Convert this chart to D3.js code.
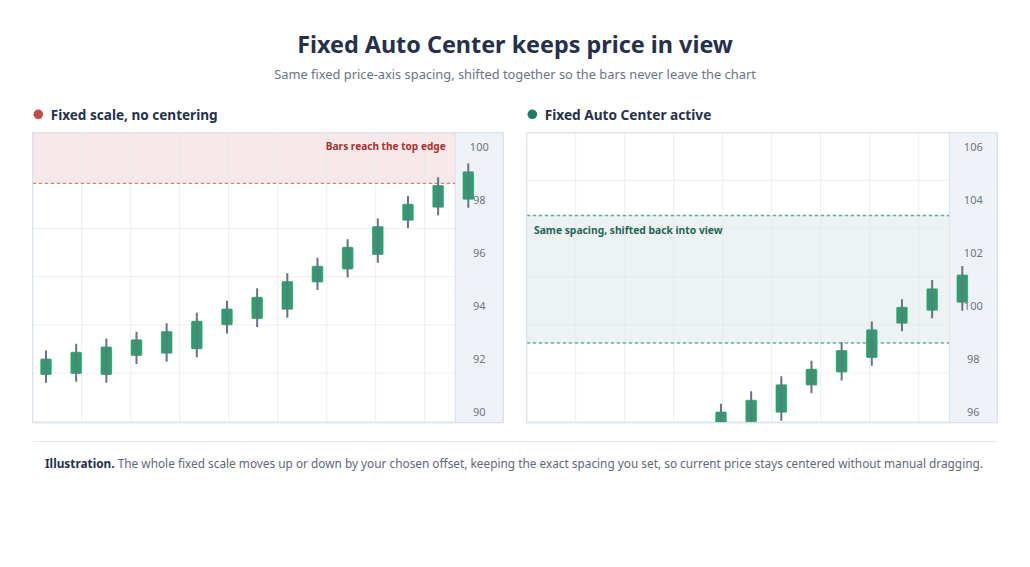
<!DOCTYPE html>
<html>
<head>
<meta charset="utf-8">
<script src="https://cdn.jsdelivr.net/npm/d3@7/dist/d3.min.js"></script>
<style>
  html, body { margin: 0; padding: 0; background: #ffffff; }
  svg { display: block; font-family: "Noto Sans", "Open Sans", sans-serif; }
</style>
</head>
<body>
<svg id="chart" width="1030" height="567"></svg>
<script>
// ---------- DATA ----------
const titleText = "Fixed Auto Center keeps price in view";
const subtitleText = "Same fixed price-axis spacing, shifted together so the bars never leave the chart";
const panelTitles = ["Fixed scale, no centering", "Fixed Auto Center active"];
const bandLabels = ["Bars reach the top edge", "Same spacing, shifted back into view"];
const footerBold = "Illustration.";
const footerText = " The whole fixed scale moves up or down by your chosen offset, keeping the exact spacing you set, so current price stays centered without manual dragging.";

const barIndex = [0, 1, 2, 3, 4, 5, 6, 7, 8, 9, 10, 11, 12, 13, 14];

// Left panel (fixed scale, no centering)
const leftOpen  = [91.40, 91.44, 91.40, 92.12, 92.20, 92.37, 93.28, 93.51, 93.86, 94.89, 95.38, 95.92, 97.21, 97.70, 98.00];
const leftHigh  = [92.33, 92.58, 92.78, 93.03, 93.35, 93.75, 94.20, 94.67, 95.24, 95.82, 96.52, 97.30, 98.14, 98.85, 99.37];
const leftLow   = [91.11, 91.15, 91.11, 91.82, 91.90, 92.07, 92.97, 93.21, 93.56, 94.60, 95.08, 95.63, 96.93, 97.42, 97.70];
const leftClose = [92.03, 92.28, 92.48, 92.75, 93.06, 93.45, 93.91, 94.35, 94.94, 95.52, 96.23, 97.01, 97.85, 98.56, 99.08];

// Right panel (Fixed Auto Center active) — first bars sit below the visible range
const rightOpen  = [93.52, 93.56, 93.52, 94.24, 94.32, 94.49, 95.40, 95.63, 95.98, 97.01, 97.50, 98.04, 99.33, 99.82, 100.12];
const rightHigh  = [94.45, 94.70, 94.90, 95.15, 95.40, 95.50, 96.32, 96.79, 97.36, 97.94, 98.64, 99.42, 100.26, 100.98, 101.51];
const rightLow   = [93.23, 93.27, 93.23, 93.94, 94.02, 94.19, 95.09, 95.33, 95.68, 96.72, 97.20, 97.75, 99.05, 99.54, 99.82];
const rightClose = [94.15, 94.40, 94.60, 94.87, 95.18, 95.45, 96.03, 96.47, 97.06, 97.64, 98.35, 99.13, 99.97, 100.67, 101.19];

const leftTicks  = [90, 92, 94, 96, 98, 100];
const rightTicks = [96, 98, 100, 102, 104, 106];

const leftDomain  = [90, 100];
const rightDomain = [96, 106];

// zone edges (price values)
const leftZone  = [98.62, null];     // from dashed line up to top edge
const rightZone = [98.61, 103.41];   // centered band

// ---------- LAYOUT ----------
const svg = d3.select("#chart");
const W = 1030;
const frameW = 470.6, frameH = 290, plotW = 422.6;
const frameTop = 132.7;

function fit(sel, target) {
  const n = sel.node();
  const w = n.getComputedTextLength();
  const fs = parseFloat(sel.attr("font-size"));
  if (w > 0) sel.attr("font-size", (fs * target / w).toFixed(2));
  return sel;
}

const panels = [
  { x: 32.7, title: panelTitles[0], titleW: 167, dot: "#c24b4b", ticks: leftTicks, domain: leftDomain,
    o: leftOpen, h: leftHigh, l: leftLow, c: leftClose, zone: leftZone, mode: "top",
    zoneFill: "#f7e8e9", zoneStroke: "#d4696b", label: bandLabels[0], labelW: 120, labelColor: "#a8322f" },
  { x: 526.7, title: panelTitles[1], titleW: 166.7, dot: "#1f7a68", ticks: rightTicks, domain: rightDomain,
    o: rightOpen, h: rightHigh, l: rightLow, c: rightClose, zone: rightZone, mode: "band",
    zoneFill: "#edf3f2", zoneStroke: "#4f9f8e", label: bandLabels[1], labelW: 188.7, labelColor: "#1d6657" }
];

// Title
fit(svg.append("text").attr("x", W / 2).attr("y", 53)
  .attr("text-anchor", "middle").attr("font-size", 24).attr("font-weight", 700)
  .attr("fill", "#26304b").text(titleText), 436);
fit(svg.append("text").attr("x", W / 2).attr("y", 78.5)
  .attr("text-anchor", "middle").attr("font-size", 13.5)
  .attr("fill", "#6b7386").text(subtitleText), 482);

const defs = svg.append("defs");

panels.forEach((p, pi) => {
  // heading
  svg.append("circle").attr("cx", p.x + 5.6).attr("cy", 114.3).attr("r", 4.8).attr("fill", p.dot);
  fit(svg.append("text").attr("x", p.x + 18).attr("y", 120)
    .attr("font-size", 15).attr("font-weight", 700).attr("fill", "#26304b").text(p.title), p.titleW);

  const g = svg.append("g").attr("transform", `translate(${p.x},${frameTop})`);

  const x = d3.scaleLinear().domain([0, 14]).range([13.3, 435.6]);
  const y = d3.scaleLinear().domain(p.domain).range([279.6, 14]);

  defs.append("clipPath").attr("id", "clip" + pi)
    .append("rect").attr("x", 0).attr("y", 0).attr("width", frameW).attr("height", frameH);
  defs.append("clipPath").attr("id", "plotclip" + pi)
    .append("rect").attr("x", 0).attr("y", 0).attr("width", plotW).attr("height", frameH);

  // background
  g.append("rect").attr("width", frameW).attr("height", frameH).attr("fill", "#ffffff");
  // axis band
  g.append("rect").attr("x", plotW).attr("width", frameW - plotW).attr("height", frameH).attr("fill", "#eff3f8");
  g.append("line").attr("x1", plotW).attr("x2", plotW).attr("y1", 0).attr("y2", frameH)
    .attr("stroke", "#d8dfea").attr("stroke-width", 1);

  const plot = g.append("g").attr("clip-path", `url(#plotclip${pi})`);

  // zone
  let zTop, zBot;
  if (p.mode === "top") { zTop = 0; zBot = y(p.zone[0]); }
  else { zTop = y(p.zone[1]); zBot = y(p.zone[0]); }
  plot.append("rect").attr("x", 0).attr("width", plotW).attr("y", zTop).attr("height", zBot - zTop)
    .attr("fill", p.zoneFill);

  // grid
  const gridCols = d3.range(1, 9).map(k => k * 49);
  const gridRows = d3.range(1, 7).map(k => k * 48.2 - 0.6);
  plot.selectAll(".gc").data(gridCols).join("line")
    .attr("x1", d => d).attr("x2", d => d).attr("y1", 0).attr("y2", frameH)
    .attr("stroke", "#e4e9f0").attr("stroke-opacity", 0.75).attr("stroke-width", 1);
  plot.selectAll(".gr").data(gridRows).join("line")
    .attr("x1", 0).attr("x2", plotW).attr("y1", d => d).attr("y2", d => d)
    .attr("stroke", "#e4e9f0").attr("stroke-opacity", 0.75).attr("stroke-width", 1);

  // dashed zone edges
  const edges = p.mode === "top" ? [p.zone[0]] : [p.zone[0], p.zone[1]];
  plot.selectAll(".edge").data(edges).join("line")
    .attr("x1", 0).attr("x2", plotW).attr("y1", d => y(d)).attr("y2", d => y(d))
    .attr("stroke", p.zoneStroke).attr("stroke-opacity", 0.85)
    .attr("stroke-width", 1.3).attr("stroke-dasharray", "3.5,2.5");

  // zone label
  let lab;
  if (p.mode === "top") {
    lab = plot.append("text").attr("x", plotW - 9.6).attr("y", 17.5).attr("text-anchor", "end");
  } else {
    lab = plot.append("text").attr("x", 7.3).attr("y", y(p.zone[1]) + 18.5);
  }
  fit(lab.attr("font-size", 10.5).attr("font-weight", 700).attr("fill", p.labelColor).text(p.label), p.labelW);

  // candles
  const cg = g.append("g").attr("clip-path", `url(#clip${pi})`);
  const bw = 11.6;
  cg.selectAll(".body").data(barIndex).join("rect")
    .attr("x", i => x(i) - bw / 2)
    .attr("y", i => y(Math.max(p.o[i], p.c[i])))
    .attr("width", bw)
    .attr("height", i => Math.abs(y(p.o[i]) - y(p.c[i])))
    .attr("rx", 1.5)
    .attr("fill", "#2f9e6d")
    .attr("stroke", "#ffffff").attr("stroke-opacity", 0.5).attr("stroke-width", 0.6);
  cg.selectAll(".wick").data(barIndex).join("line")
    .attr("x1", i => x(i)).attr("x2", i => x(i))
    .attr("y1", i => y(p.h[i])).attr("y2", i => y(p.l[i]))
    .attr("stroke", "#687386").attr("stroke-width", 2);

  // axis labels
  const axis = d3.axisRight(y).tickValues(p.ticks).tickSize(0).tickPadding(0).tickFormat(d3.format("d"));
  const ag = g.append("g").attr("transform", `translate(${plotW + (frameW - plotW) / 2},0)`).call(axis);
  ag.select(".domain").remove();
  ag.selectAll("text").attr("text-anchor", "middle").attr("x", 0)
    .attr("font-family", "'Noto Sans', sans-serif").attr("font-size", 11).attr("fill", "#6d7587");

  // frame border
  g.append("rect").attr("x", 0).attr("y", 0).attr("width", frameW).attr("height", frameH)
    .attr("fill", "none").attr("stroke", "#d8dfea").attr("stroke-width", 1.2);
});

// separator
svg.append("line").attr("x1", 33).attr("x2", 997).attr("y1", 441.5).attr("y2", 441.5)
  .attr("stroke", "#e5e8ee").attr("stroke-width", 1.2);

// footer
const ft = svg.append("text").attr("x", 45).attr("y", 467.5).attr("font-size", 12.6).attr("fill", "#5f677a");
ft.append("tspan").attr("font-weight", 700).attr("fill", "#26304b").text(footerBold);
ft.append("tspan").text(footerText);
fit(ft, 938);
</script>
</body>
</html>
